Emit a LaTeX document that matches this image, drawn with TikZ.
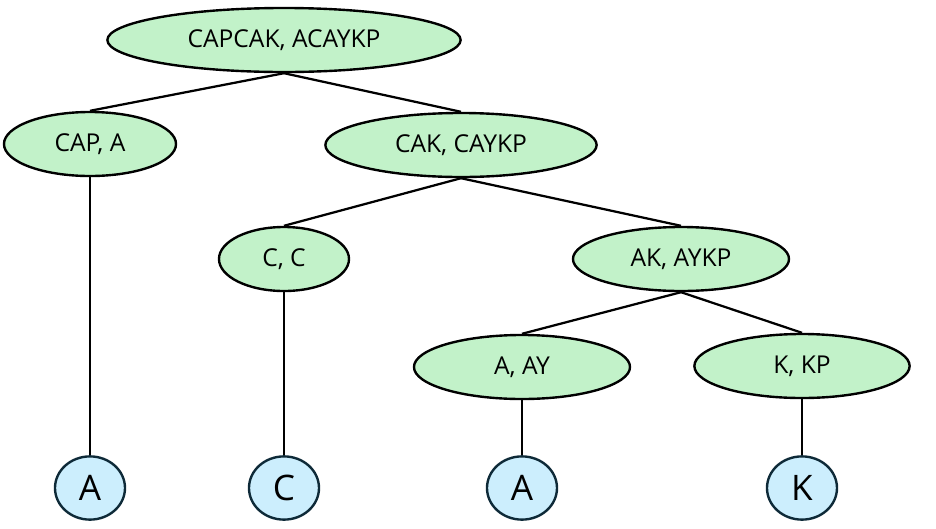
\documentclass[tikz,border=0pt]{standalone}
\usepackage{fontspec}
\setmainfont{Open Sans}
\usetikzlibrary{shapes.geometric}
\definecolor{pairfill}{HTML}{C2F2C9}
\definecolor{leaffill}{HTML}{CCEEFD}
\definecolor{leafline}{HTML}{0E2A38}

\begin{document}
\begin{tikzpicture}[x=0.025cm, y=-0.025cm]
        \tikzstyle{pair} = [ellipse, draw=black, line width=1.7pt, fill=pairfill, inner sep=0pt,
            minimum height=1.6cm, font=\fontsize{17.5}{21}\selectfont];
        \tikzstyle{leaf} = [ellipse, draw=leafline, line width=1.7pt, fill=leaffill, inner sep=0pt,
            minimum width=1.75cm, minimum height=1.58cm, font=\fontsize{25}{30}\selectfont];
        \tikzstyle{branch} = [line width=1.6pt, black];
        \useasboundingbox (0,0) rectangle (936,528);

        % pairs of strings
        \node [pair, minimum width=8.83cm] (root) at (284,40) {CAPCAK,\ ACAYKP};
        \node [pair, minimum width=4.30cm] (cap) at (90,144) {CAP,\ A};
        \node [pair, minimum width=6.78cm] (cak) at (461,145) {CAK,\ CAYKP};
        \node [pair, minimum width=3.25cm] (cc) at (284,259) {C,\ C};
        \node [pair, minimum width=5.40cm] (ak) at (681,259) {AK,\ AYKP};
        \node [pair, minimum width=5.40cm] (aay) at (522,367) {A,\ AY};
        \node [pair, minimum width=5.38cm] (kkp) at (802,366) {K,\ KP};

        % common letters
        \node [leaf] (la) at (90,488) {A};
        \node [leaf] (lc) at (284,488) {C};
        \node [leaf] (lb) at (522,488) {A};
        \node [leaf] (lk) at (802,488) {K};

        \draw [branch] (root.south) -- (cap.north);
        \draw [branch] (root.south) -- (cak.north);
        \draw [branch] (cak.south) -- (cc.north);
        \draw [branch] (cak.south) -- (ak.north);
        \draw [branch] (ak.south) -- (aay.north);
        \draw [branch] (ak.south) -- (kkp.north);
        \draw [branch] (cap.south) -- (la.north);
        \draw [branch] (cc.south) -- (lc.north);
        \draw [branch] (aay.south) -- (lb.north);
        \draw [branch] (kkp.south) -- (lk.north);
    \end{tikzpicture}
\end{document}
